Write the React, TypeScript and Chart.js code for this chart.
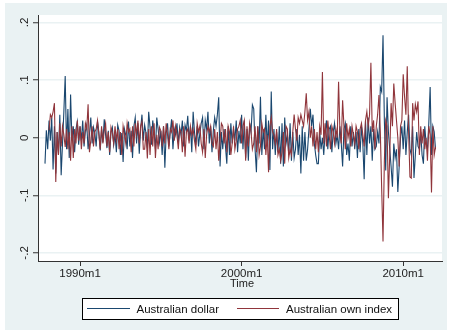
import { useEffect, useRef } from "react";
import { Chart, registerables } from "chart.js";

Chart.register(...registerables);

// first observation: 1987m11, monthly
const startYear = 1987;
const startMonth = 11;

const audDollar: (number | null)[] = [
  -0.045, 0.013, // 1987
  -0.02, 0.03, -0.005, 0.035, -0.055, 0.02, -0.062, 0.01, -0.03, 0.04, -0.065, -0.01, // 1988
  0.045, 0.107, -0.02, 0.05, -0.035, 0.075, -0.005, 0.02, -0.025, 0.015, 0.028, -0.012, // 1989
  0.02, -0.005, 0.03, -0.015, 0.012, 0.022, -0.02, 0.005, 0.035, -0.01, 0.018, 0.008, // 1990
  -0.015, 0.028, 0.01, -0.022, 0.015, -0.008, 0.032, 0.005, -0.018, 0.012, -0.03, 0.01, // 1991
  0.018, -0.012, 0.006, -0.025, 0.022, 0.012, -0.03, 0.008, -0.042, 0.015, 0.004, -0.02, // 1992
  0.028, -0.015, 0.012, -0.035, 0.02, 0.035, -0.01, 0.025, -0.028, 0.015, 0.04, -0.005, // 1993
  0.022, 0.008, -0.018, 0.045, 0.018, -0.012, 0.03, 0.01, -0.02, 0.035, 0.015, -0.008, // 1994
  0.012, -0.03, 0.02, -0.052, 0.008, 0.025, -0.015, 0.01, 0.032, -0.02, 0.015, 0.005, // 1995
  0.025, -0.01, 0.018, 0.005, 0.03, -0.015, 0.022, 0.012, 0.038, -0.005, 0.02, -0.025, // 1996
  0.045, 0.01, -0.012, 0.02, -0.015, 0.008, 0.025, 0.035, -0.02, 0.03, 0.015, 0.045, // 1997
  -0.01, 0.02, -0.025, 0.012, 0.035, 0.02, 0.04, 0.07, -0.05, 0.01, -0.02, 0.015, // 1998
  -0.015, -0.045, 0.02, -0.03, 0.025, -0.01, 0.015, -0.005, 0.03, -0.025, 0.012, -0.01, // 1999
  0.04, -0.02, 0.03, -0.035, 0.015, -0.04, 0.025, 0.01, 0.057, 0.05, -0.02, -0.06, // 2000
  0.02, -0.01, 0.071, -0.03, 0.015, -0.02, 0.04, -0.015, 0.03, -0.056, 0.08, -0.02, // 2001
  0.015, -0.03, 0.01, -0.025, 0.02, -0.045, 0.025, -0.05, 0.035, -0.01, 0.005, -0.03, // 2002
  0.025, -0.04, 0.01, -0.035, -0.02, 0.015, -0.03, 0.005, -0.062, 0.02, -0.04, 0.01, // 2003
  -0.04, -0.02, 0.015, 0.05, 0.02, 0.04, -0.01, -0.03, -0.045, -0.045, 0.01, -0.02, // 2004
  0.0, -0.03, 0.01, 0.03, -0.02, 0.015, 0.02, -0.025, 0.01, 0.025, -0.01, 0.005, // 2005
  -0.02, 0.02, -0.01, -0.05, 0.015, 0.025, -0.03, -0.01, -0.04, 0.02, -0.015, 0.01, // 2006
  -0.02, 0.01, -0.035, 0.015, -0.025, 0.02, -0.01, -0.072, 0.03, -0.03, 0.035, -0.01, // 2007
  0.02, -0.04, 0.015, -0.02, -0.015, 0.01, -0.01, 0.088, 0.08, 0.178, 0.03, -0.057, // 2008
  0.07, 0.01, -0.02, -0.05, -0.085, -0.01, -0.035, -0.02, -0.094, -0.05, 0.0, 0.02, // 2009
  -0.02, 0.03, -0.03, 0.01, 0.04, -0.02, -0.03, 0.02, -0.07, -0.03, 0.01, -0.015, // 2010
  -0.02, 0.01, -0.03, -0.045, 0.02, -0.01, -0.02, 0.025, 0.088, -0.03, 0.02, 0.01, // 2011
  -0.02, // 2012
];

const ownIndex: (number | null)[] = [
  null, null, // 1987
  null, 0.013, 0.04, 0.035, 0.045, 0.06, -0.077, 0.01, -0.03, 0.025, -0.015, 0.02, // 1988
  0.005, -0.016, 0.015, -0.02, 0.01, -0.04, 0.02, -0.035, 0.015, -0.01, 0.03, -0.005, // 1989
  0.02, -0.02, 0.01, -0.01, 0.025, 0.015, 0.058, -0.025, -0.005, 0.02, -0.015, 0.01, // 1990
  0.015, 0.03, 0.005, -0.02, 0.02, -0.01, 0.012, 0.025, -0.015, 0.01, -0.025, 0.018, // 1991
  0.008, -0.01, 0.02, -0.005, 0.015, -0.02, 0.01, -0.03, 0.02, 0.005, -0.01, 0.025, // 1992
  0.01, 0.015, -0.025, 0.02, -0.015, 0.025, 0.005, 0.03, -0.01, 0.02, 0.028, -0.02, // 1993
  -0.02, 0.01, -0.036, 0.015, -0.03, 0.02, -0.015, 0.025, -0.035, 0.005, -0.02, 0.018, // 1994
  0.012, -0.015, 0.02, -0.01, 0.025, 0.005, -0.02, 0.015, 0.01, 0.03, -0.005, 0.02, // 1995
  0.005, -0.02, 0.015, 0.01, -0.025, 0.02, -0.033, 0.01, 0.015, -0.01, 0.02, 0.005, // 1996
  0.015, -0.005, -0.02, 0.025, 0.01, 0.02, -0.01, -0.025, 0.015, -0.035, 0.005, 0.02, // 1997
  0.01, 0.02, -0.01, -0.015, 0.015, -0.02, 0.01, -0.04, -0.005, 0.025, 0.02, -0.01, // 1998
  0.015, -0.025, 0.02, 0.01, -0.03, -0.01, 0.02, -0.02, -0.005, 0.015, 0.02, 0.03, // 1999
  -0.01, 0.02, 0.03, -0.04, 0.02, -0.015, 0.025, 0.01, -0.02, -0.01, 0.02, -0.025, // 2000
  0.02, -0.03, -0.015, 0.025, 0.01, 0.015, -0.03, 0.005, -0.06, 0.02, 0.035, 0.01, // 2001
  0.005, -0.01, 0.015, -0.03, -0.02, -0.04, -0.025, 0.01, -0.045, 0.02, 0.015, -0.035, // 2002
  -0.02, -0.03, 0.01, 0.04, 0.015, -0.005, 0.035, 0.025, 0.04, 0.03, 0.02, 0.045, // 2003
  0.077, 0.03, 0.045, 0.0, 0.02, -0.015, 0.015, -0.02, 0.01, -0.025, 0.02, 0.005, // 2004
  0.114, -0.01, 0.025, -0.015, 0.03, 0.005, -0.02, 0.02, 0.01, -0.01, 0.015, 0.0, // 2005
  0.097, 0.01, -0.01, 0.065, 0.02, -0.02, 0.025, 0.0, 0.015, -0.015, 0.02, 0.005, // 2006
  -0.01, 0.02, 0.01, -0.02, 0.015, 0.025, 0.005, -0.015, 0.03, 0.045, 0.02, 0.04, // 2007
  0.13, 0.01, 0.03, -0.02, 0.02, 0.04, 0.074, 0.01, -0.088, -0.18, -0.04, 0.03, // 2008
  0.02, -0.105, -0.03, 0.06, 0.02, 0.094, 0.06, 0.03, 0.0, -0.05, 0.02, 0.03, // 2009
  0.11, 0.071, 0.04, 0.124, 0.01, -0.068, -0.07, 0.06, 0.03, 0.058, 0.045, 0.063, // 2010
  -0.03, 0.02, -0.01, 0.015, -0.02, 0.0, -0.04, 0.02, 0.005, -0.095, 0.02, -0.03, // 2011
  -0.016, // 2012
];

const seriesNames = ["Australian dollar", "Australian own index"];
const xTickValues = [1990, 2000, 2010];
const xTickLabels = ["1990m1", "2000m1", "2010m1"];
const yTickValues = [-0.2, -0.1, 0, 0.1, 0.2];
const yTickLabels = ["-.2", "-.1", "0", ".1", ".2"];
const xTitle = "Time";

const BLUE = "#1a476f";
const RED = "#90353b";
const BG = "#eaf2f3";
const FONT = "'Liberation Sans', Arial, sans-serif";

const toPoints = (vals: (number | null)[]) =>
  vals.map((v, i) => ({ x: startYear + (startMonth - 1 + i) / 12, y: v }));

export default function App() {
  const ref = useRef<HTMLCanvasElement | null>(null);

  useEffect(() => {
    if (!ref.current) return;
    const deco = {
      id: "stataDeco",
      beforeDraw(chart: any) {
        const { ctx, chartArea: a } = chart;
        ctx.save();
        ctx.fillStyle = "#ffffff";
        ctx.fillRect(0, 0, chart.width, chart.height);
        ctx.fillStyle = BG;
        ctx.fillRect(5, 3, 442, 327);
        ctx.fillStyle = "#ffffff";
        ctx.fillRect(a.left, a.top, a.right - a.left, a.bottom - a.top);
        ctx.restore();
      },
      afterDraw(chart: any) {
        const { ctx, chartArea: a } = chart;
        const xs = chart.scales.x;
        const ys = chart.scales.y;
        ctx.save();
        ctx.fillStyle = "#222";
        ctx.font = `11.5px ${FONT}`;
        // y labels rotated
        yTickValues.forEach((v, i) => {
          const py = ys.getPixelForValue(v);
          ctx.save();
          ctx.translate(28, py);
          ctx.rotate(-Math.PI / 2);
          ctx.textAlign = "center";
          ctx.textBaseline = "alphabetic";
          ctx.fillText(yTickLabels[i], 0, 0);
          ctx.restore();
        });
        // x labels
        ctx.textAlign = "center";
        ctx.textBaseline = "alphabetic";
        xTickValues.forEach((v, i) => {
          ctx.fillText(xTickLabels[i], xs.getPixelForValue(v), 277);
        });
        ctx.font = `11px ${FONT}`;
        ctx.fillText(xTitle, (a.left + a.right) / 2 + 2, 286.5);
        // legend
        ctx.fillStyle = "#ffffff";
        ctx.fillRect(82.5, 298.5, 316, 21);
        ctx.strokeStyle = "#000";
        ctx.lineWidth = 1;
        ctx.strokeRect(82.5, 298.5, 316, 21);
        const items = [
          { c: BLUE, x0: 87, x1: 130, tx: 136.5 },
          { c: RED, x0: 237, x1: 279, tx: 286 },
        ];
        ctx.font = `11.5px ${FONT}`;
        ctx.textAlign = "left";
        items.forEach((it, i) => {
          ctx.strokeStyle = it.c;
          ctx.lineWidth = 1.2;
          ctx.beginPath();
          ctx.moveTo(it.x0, 308.5);
          ctx.lineTo(it.x1, 308.5);
          ctx.stroke();
          ctx.fillStyle = "#111";
          ctx.fillText(seriesNames[i], it.tx, 312.8);
        });
        ctx.restore();
      },
    };

    const chart = new Chart(ref.current, {
      type: "line",
      data: {
        datasets: [
          {
            label: seriesNames[0],
            data: toPoints(audDollar) as any,
            borderColor: BLUE,
            borderWidth: 1.1,
            pointRadius: 0,
            tension: 0,
            fill: false,
            order: 1,
          },
          {
            label: seriesNames[1],
            data: toPoints(ownIndex) as any,
            borderColor: RED,
            borderWidth: 1.1,
            pointRadius: 0,
            tension: 0,
            fill: false,
            order: 0,
          },
        ],
      },
      options: {
        animation: false,
        responsive: false,
        maintainAspectRatio: false,
        layout: { padding: { left: 33, right: 8, top: 15, bottom: 66 } },
        plugins: { legend: { display: false }, tooltip: { enabled: false } },
        scales: {
          x: {
            type: "linear",
            min: 1987.4,
            max: 2012.4,
            afterBuildTicks: (s: any) => {
              s.ticks = xTickValues.map((v) => ({ value: v }));
            },
            ticks: { display: false },
            grid: {
              drawOnChartArea: false,
              drawTicks: true,
              tickLength: 5,
              tickColor: "#333",
            },
            border: { display: true, color: "#333", width: 1 },
          },
          y: {
            type: "linear",
            min: -0.214,
            max: 0.213,
            afterBuildTicks: (s: any) => {
              s.ticks = yTickValues.map((v) => ({ value: v }));
            },
            ticks: { display: false },
            grid: {
              color: BG,
              lineWidth: 1.5,
              drawTicks: true,
              tickLength: 5,
              tickColor: "#333",
              tickWidth: 1,
            },
            border: { display: true, color: "#333", width: 1 },
          },
        },
      },
      plugins: [deco],
    });
    return () => chart.destroy();
  }, []);

  return (
    <div style={{ position: "fixed", left: 0, top: 0, width: 450, height: 332 }}>
      <canvas ref={ref} width={450} height={332} style={{ width: 450, height: 332, display: "block" }} />
    </div>
  );
}
